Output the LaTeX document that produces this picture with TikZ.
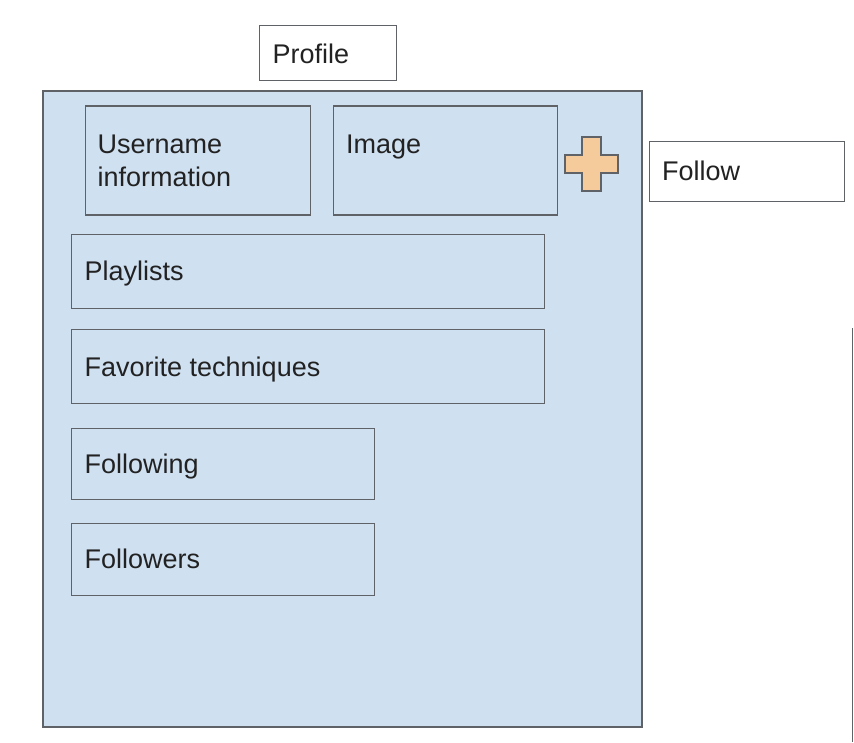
\documentclass[tikz,border=0pt]{standalone}
\usepackage{fontspec}
\setmainfont{Liberation Sans}
\definecolor{panelblue}{HTML}{CFE0F1}
\definecolor{edgegray}{HTML}{5F6368}
\definecolor{plusorange}{HTML}{F6CB9C}
\definecolor{txtgray}{HTML}{222222}
\tikzset{
  boxshape/.style={draw=edgegray, line width=1.8pt, rectangle, inner sep=0pt, anchor=north west},
  whitebox/.style={boxshape, fill=white},
  bluebox/.style={boxshape, fill=panelblue},
  txt/.style={anchor=base west, inner sep=0pt, text=txtgray, font=\fontsize{27}{33}\selectfont}
}
\begin{document}
\begin{tikzpicture}[x=1pt,y=-1pt]
\useasboundingbox (0,0) rectangle (854,742);
% main panel
\node[bluebox, minimum width=599pt, minimum height=636pt] (panel) at (42,90) {};
% profile title
\node[whitebox, minimum width=137pt, minimum height=55pt] (profile) at (258.5,24.5) {};
\node[txt] (profiletxt) at ([shift={(14,39)}]profile.north west) {Profile};
% username
\node[bluebox, minimum width=225pt, minimum height=109pt] (user) at (84.5,105) {};
\node[txt] (usertxt) at ([shift={(13,48)}]user.north west) {Username};
\node[txt] (usertxt2) at ([shift={(13,81)}]user.north west) {information};
% image
\node[bluebox, minimum width=224pt, minimum height=109pt] (image) at (332.5,105) {};
\node[txt] (imagetxt) at ([shift={(13.5,48)}]image.north west) {Image};
% plus sign
\coordinate (plus) at (591.5,164);
\draw[draw=edgegray, line width=1.4pt, fill=plusorange, line join=miter]
  ([shift={(-9.5,-27)}]plus) -- ([shift={(9.5,-27)}]plus) -- ([shift={(9.5,-9)}]plus)
  -- ([shift={(26.5,-9)}]plus) -- ([shift={(26.5,9)}]plus) -- ([shift={(9.5,9)}]plus)
  -- ([shift={(9.5,27)}]plus) -- ([shift={(-9.5,27)}]plus) -- ([shift={(-9.5,9)}]plus)
  -- ([shift={(-26.5,9)}]plus) -- ([shift={(-26.5,-9)}]plus) -- ([shift={(-9.5,-9)}]plus) -- cycle;
% follow
\node[whitebox, minimum width=195pt, minimum height=60pt] (follow) at (648.5,140.5) {};
\node[txt] (followtxt) at ([shift={(13.5,39.5)}]follow.north west) {Follow};
% playlists
\node[bluebox, minimum width=473pt, minimum height=74pt] (play) at (70.5,233.5) {};
\node[txt] (playtxt) at ([shift={(14,47)}]play.north west) {Playlists};
% favorite techniques
\node[bluebox, minimum width=473pt, minimum height=74pt] (fav) at (70.5,328.5) {};
\node[txt] (favtxt) at ([shift={(14,48)}]fav.north west) {Favorite techniques};
% following
\node[bluebox, minimum width=303pt, minimum height=71pt] (fing) at (70.5,427.5) {};
\node[txt] (fingtxt) at ([shift={(14,46)}]fing.north west) {Following};
% followers
\node[bluebox, minimum width=303pt, minimum height=72pt] (fers) at (70.5,522.5) {};
\node[txt] (ferstxt) at ([shift={(14,46)}]fers.north west) {Followers};
% vertical line at right edge
\coordinate (vtop) at (852.5,328);
\coordinate (vbot) at (852.5,742);
\draw[draw=edgegray, line width=1.8pt] (vtop) -- (vbot);
\end{tikzpicture}
\end{document}
